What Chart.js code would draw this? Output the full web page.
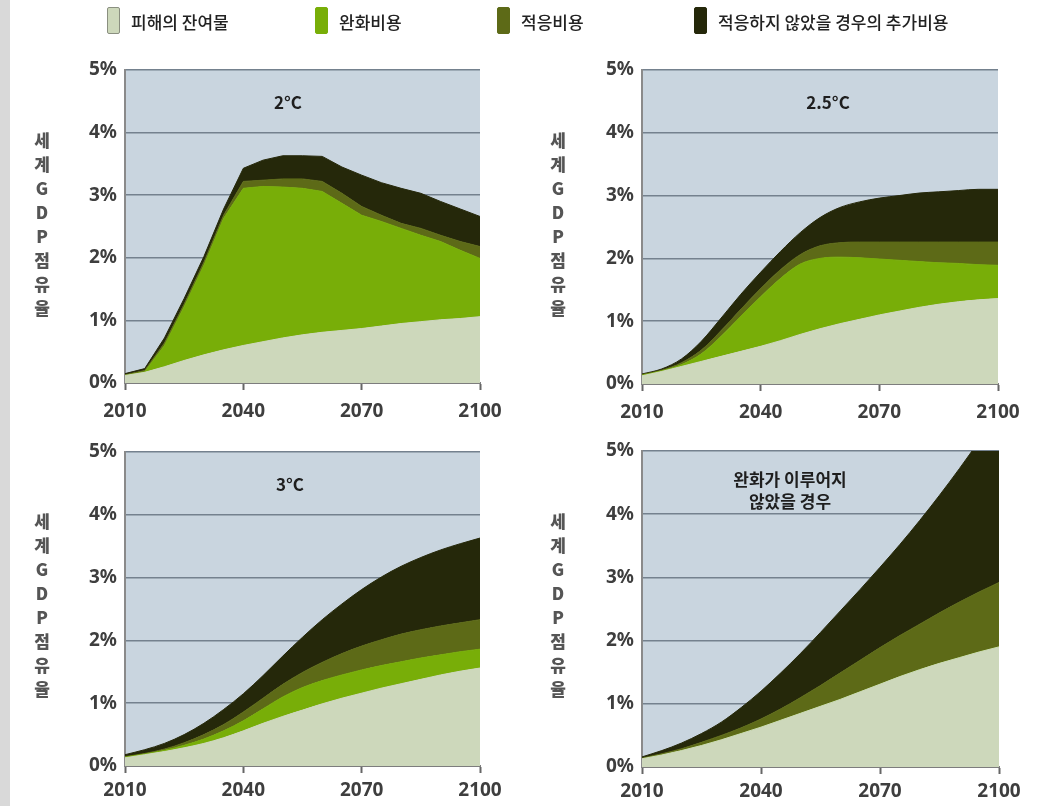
<!DOCTYPE html>
<html><head><meta charset="utf-8">
<script src="https://cdn.jsdelivr.net/npm/chart.js@4"></script>
<style>
html,body{margin:0;padding:0;background:#fff;width:1045px;height:806px;overflow:hidden;position:relative;font-family:"Noto Sans CJK KR","Noto Sans",sans-serif}
#strip{position:absolute;left:0;top:0;width:10px;height:806px;background:#d9d9d9}
canvas{position:absolute}
.leg{position:absolute;top:8px;height:27px;display:flex;align-items:center;font-size:17px;font-weight:500;color:#222;white-space:nowrap}
.box{position:absolute;top:7px;width:13px;height:27px;border-radius:2px;box-sizing:border-box}
.ytitle{position:absolute;width:30px;text-align:center;font-size:17px;font-weight:900;line-height:24px;color:#555;z-index:5}
</style></head>
<body>
<div id="strip"></div>
<canvas id="c1" style="left:0;top:0"></canvas>
<canvas id="c2" style="left:522px;top:0"></canvas>
<canvas id="c3" style="left:0;top:400px"></canvas>
<canvas id="c4" style="left:522px;top:400px"></canvas>
<div id="legend"></div>
<div id="ytitles"></div>
<script>
// ---- data ----
const years = [2010,2015,2020,2025,2030,2035,2040,2045,2050,2055,2060,2065,2070,2075,2080,2085,2090,2095,2100];
const xTickLabels = [2010,2040,2070,2100];
const yTickLabels = ['0%','1%','2%','3%','4%','5%'];
const seriesNames = ['피해의 잔여물','완화비용','적응비용','적응하지 않았을 경우의 추가비용'];
const panelTitles = [['2°C'],['2.5°C'],['3°C'],['완화가 이루어지','않았을 경우']];
const yTitleChars = ['세','계','G','D','P','점','유','율'];

// 2°C
const damage2C = [0.12,0.17,0.26,0.36,0.45,0.53,0.60,0.66,0.72,0.77,0.81,0.84,0.87,0.91,0.95,0.98,1.01,1.03,1.06];
const mitig2C  = [0.00,0.01,0.34,0.86,1.43,2.10,2.51,2.48,2.41,2.34,2.25,2.03,1.81,1.67,1.52,1.38,1.25,1.09,0.93];
const adapt2C  = [0.01,0.02,0.04,0.04,0.05,0.05,0.11,0.10,0.13,0.15,0.16,0.16,0.14,0.10,0.08,0.11,0.10,0.14,0.19];
const extra2C  = [0.02,0.03,0.08,0.09,0.09,0.10,0.21,0.32,0.37,0.37,0.40,0.42,0.50,0.52,0.56,0.56,0.54,0.52,0.48];
// 2.5°C
const damage25C = [0.13,0.20,0.28,0.36,0.44,0.52,0.60,0.69,0.79,0.88,0.96,1.03,1.10,1.16,1.22,1.27,1.31,1.34,1.36];
const mitig25C  = [0.01,0.01,0.03,0.12,0.32,0.56,0.79,0.99,1.12,1.12,1.06,0.98,0.89,0.81,0.73,0.66,0.61,0.56,0.53];
const adapt25C  = [0.01,0.01,0.03,0.06,0.09,0.11,0.13,0.14,0.15,0.20,0.23,0.25,0.27,0.29,0.31,0.33,0.34,0.36,0.37];
const extra25C  = [0.01,0.02,0.06,0.14,0.20,0.24,0.26,0.29,0.35,0.45,0.56,0.64,0.70,0.74,0.78,0.80,0.82,0.84,0.84];
// 3°C
const damage3C = [0.13,0.18,0.23,0.29,0.36,0.45,0.56,0.68,0.79,0.89,0.99,1.08,1.16,1.24,1.31,1.38,1.45,1.51,1.56];
const mitig3C  = [0.01,0.01,0.02,0.04,0.07,0.11,0.16,0.23,0.31,0.36,0.37,0.37,0.37,0.36,0.35,0.34,0.32,0.31,0.30];
const adapt3C  = [0.01,0.01,0.02,0.04,0.07,0.10,0.14,0.17,0.20,0.24,0.29,0.34,0.38,0.41,0.44,0.45,0.46,0.46,0.47];
const extra3C  = [0.03,0.06,0.09,0.13,0.18,0.24,0.29,0.36,0.45,0.56,0.68,0.79,0.90,1.00,1.08,1.15,1.21,1.26,1.30];
// no mitigation
const damageNM = [0.13,0.19,0.26,0.34,0.43,0.53,0.63,0.74,0.85,0.96,1.07,1.19,1.31,1.43,1.54,1.64,1.73,1.82,1.90];
const mitigNM  = [0,0,0,0,0,0,0,0,0,0,0,0,0,0,0,0,0,0,0];
const adaptNM  = [0.01,0.02,0.03,0.05,0.07,0.09,0.13,0.18,0.25,0.33,0.42,0.50,0.58,0.65,0.72,0.80,0.88,0.95,1.02];
const extraNM  = [0.02,0.05,0.09,0.14,0.21,0.32,0.44,0.57,0.70,0.84,0.98,1.12,1.27,1.44,1.64,1.86,2.11,2.39,2.68];

// ---- styling ----
const colors = ['#cdd8bb','#78ae08','#5d6a17','#25280a'];
const plotBg = '#c9d5df';
const tickFont = {family:'"Noto Sans", "Liberation Sans", sans-serif', size:19, weight:'bold'};
const tickColor = '#3e3e3e';

// legend (HTML)
const legPos = [[107,131],[315,339],[497,521],[694,718]];
const legend = document.getElementById('legend');
seriesNames.forEach((n,i)=>{
  const b = document.createElement('div'); b.className='box';
  b.style.left = legPos[i][0]+'px'; b.style.background = colors[i];
  b.style.border = '1px solid ' + (i===0 ? '#8a8f80' : colors[i]);
  legend.appendChild(b);
  const t = document.createElement('div'); t.className='leg';
  t.style.left = legPos[i][1]+'px'; t.textContent = n;
  legend.appendChild(t);
});
// y titles
const yt = document.getElementById('ytitles');
[[27,128],[543,128],[27,509],[543,509]].forEach(p=>{
  const d = document.createElement('div'); d.className='ytitle';
  d.style.left=p[0]+'px'; d.style.top=p[1]+'px';
  d.innerHTML = yTitleChars.join('<br>');
  yt.appendChild(d);
});

const bgPlugin = {
  id:'plotbg',
  beforeDraw(chart){
    const {ctx, chartArea:a} = chart;
    ctx.save(); ctx.fillStyle = plotBg;
    ctx.fillRect(a.left, a.top, a.right-a.left, a.bottom-a.top);
    ctx.restore();
  }
};
const titlePlugin = {
  id:'paneltitle',
  afterDatasetsDraw(chart, args, opts){
    const ctx = chart.ctx;
    ctx.save();
    ctx.fillStyle = '#1e1e1e';
    ctx.font = 'bold 17px "Noto Sans CJK KR", "Noto Sans", sans-serif';
    ctx.textAlign='center'; ctx.textBaseline='middle';
    opts.lines.forEach((l,i)=>ctx.fillText(l, opts.x, opts.y + i*22));
    ctx.restore();
  }
};

function makeChart(id, w, h, layout, series, title, smooth){
  const cv = document.getElementById(id);
  cv.width = w; cv.height = h; cv.style.width=w+'px'; cv.style.height=h+'px';
  const ds = series.map((d,i)=>({
    label: seriesNames[i], data: d,
    backgroundColor: colors[i], borderColor: colors[i], borderWidth: 1,
    fill: i===0 ? 'origin' : '-1', pointRadius: 0,
    tension: smooth ? 0.4 : 0, cubicInterpolationMode: smooth ? 'monotone' : 'default'
  }));
  return new Chart(cv, {
    type:'line',
    data:{labels: years, datasets: ds},
    plugins:[bgPlugin, titlePlugin],
    options:{
      responsive:false, animation:false, devicePixelRatio:1,
      layout:{padding:{left:0, top:layout.top, right:layout.right, bottom:0}},
      plugins:{legend:{display:false}, tooltip:{enabled:false},
        paneltitle:{x:title.x, y:title.y, lines:title.lines}},
      scales:{
        x:{type:'linear', min:2010, max:2100,
          afterBuildTicks(s){ s.ticks = xTickLabels.map(v=>({value:v})); },
          afterFit(s){ s.height = layout.xh; },
          ticks:{font:tickFont, color:tickColor, padding:layout.xpad, maxRotation:0, callback:v=>String(v)},
          grid:{drawOnChartArea:false, drawTicks:true, tickLength:7, tickColor:'#666', tickWidth:2},
          border:{color:'#7d7d7d', width:2}
        },
        y:{stacked:true, min:0, max:5,
          afterBuildTicks(s){ s.ticks = yTickLabels.map((t,i)=>({value:i})); },
          afterFit(s){ s.width = layout.yw; },
          ticks:{font:tickFont, color:tickColor, padding:8, callback:(v,i)=>yTickLabels[i]},
          grid:{color:'#74818e', lineWidth:1.5, drawTicks:false},
          border:{color:'#8a8a8a', width:2}
        }
      }
    }
  });
}

makeChart('c1', 522, 430, {top:70, right:42, xh:47, yw:125, xpad:10},
  [damage2C, mitig2C, adapt2C, extra2C], {x:288, y:103, lines:panelTitles[0]}, false);
makeChart('c2', 523, 430, {top:70, right:47, xh:46, yw:120, xpad:10},
  [damage25C, mitig25C, adapt25C, extra25C], {x:306, y:103, lines:panelTitles[1]}, true);
makeChart('c3', 522, 406, {top:52, right:42, xh:40, yw:125, xpad:6},
  [damage3C, mitig3C, adapt3C, extra3C], {x:290, y:85, lines:panelTitles[2]}, true);
makeChart('c4', 523, 406, {top:51, right:46, xh:39, yw:120, xpad:6},
  [damageNM, mitigNM, adaptNM, extraNM], {x:268, y:80, lines:panelTitles[3]}, true);
</script>
</body></html>
